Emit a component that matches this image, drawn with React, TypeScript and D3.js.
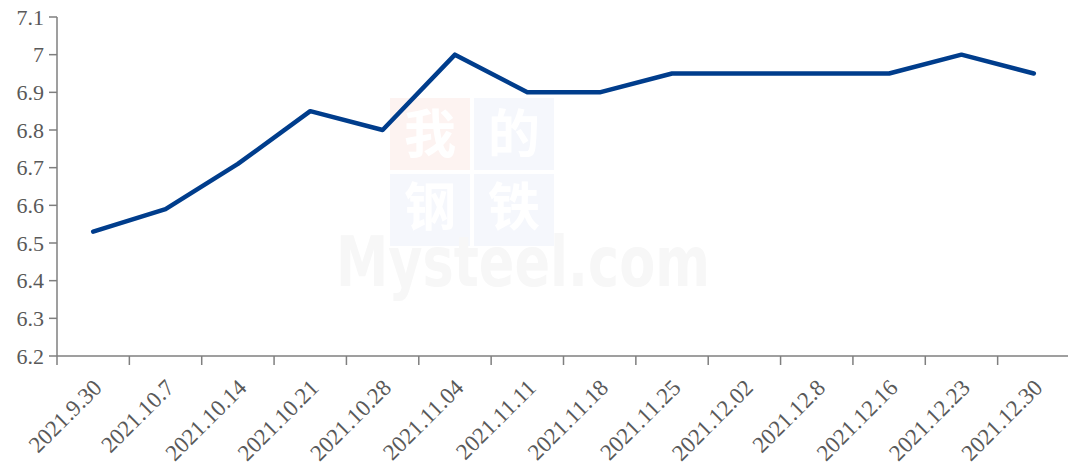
import React from "react";
import * as d3 from "d3";

const categories = ["2021.9.30","2021.10.7","2021.10.14","2021.10.21","2021.10.28","2021.11.04","2021.11.11","2021.11.18","2021.11.25","2021.12.02","2021.12.8","2021.12.16","2021.12.23","2021.12.30"];
const values = [6.53, 6.59, 6.71, 6.85, 6.80, 7.00, 6.90, 6.90, 6.95, 6.95, 6.95, 6.95, 7.00, 6.95];
const yTicks = [6.2, 6.3, 6.4, 6.5, 6.6, 6.7, 6.8, 6.9, 7.0, 7.1];

export default function App() {
  const W = 1068, H = 472;
  const left = 57, right = 1070, top = 17, bottom = 356;
  const x = d3.scaleBand<string>().domain(categories).range([left, right]).padding(0);
  const y = d3.scaleLinear().domain([6.2, 7.1]).range([bottom, top]);
  const line = d3.line<number>().x((_, i) => (x(categories[i]) as number) + x.bandwidth() / 2).y(d => y(d));
  const serif = { fontFamily: "'Liberation Serif', 'Times New Roman', Times, 'DejaVu Serif', serif" };
  const cjk = { fontFamily: "'Noto Sans CJK SC'" };
  const axisColor = "#7f7f7f";
  const textColor = "#595959";
  return (
    <svg width={W} height={H} style={{ position: "absolute", left: 0, top: 0, background: "#fff" }}>
      {/* watermark */}
      <g>
        <rect x={390} y={98} width={80} height={72} fill="#fdf3f1" />
        <rect x={474} y={98} width={80} height={72} fill="#f5f7fc" />
        <rect x={390} y={174} width={80} height={72} fill="#f5f7fc" />
        <rect x={474} y={174} width={80} height={72} fill="#f5f7fc" />
        <text x={430} y={153} textAnchor="middle" fontSize={52} fill="#ffffff" fontWeight="bold" style={cjk}>我</text>
        <text x={514} y={153} textAnchor="middle" fontSize={52} fill="#ffffff" fontWeight="bold" style={cjk}>的</text>
        <text x={430} y={226} textAnchor="middle" fontSize={52} fill="#ffffff" fontWeight="bold" style={cjk}>钢</text>
        <text x={514} y={226} textAnchor="middle" fontSize={52} fill="#ffffff" fontWeight="bold" style={cjk}>铁</text>
        <text x={336} y={286} fontSize={70} fill="#f7f7f7" fontWeight="bold" textLength={374} lengthAdjust="spacingAndGlyphs" style={{ fontFamily: "'DejaVu Sans'" }}>Mysteel.com</text>
      </g>
      {/* y axis */}
      <line x1={left} x2={left} y1={top} y2={bottom} stroke={axisColor} strokeWidth={1.5} />
      {yTicks.map(t => (
        <g key={t}>
          <line x1={left - 8} x2={left} y1={y(t)} y2={y(t)} stroke={axisColor} strokeWidth={1.5} />
          <text x={left - 13} y={y(t)} dy="0.35em" textAnchor="end" fontSize={22} fill={textColor} style={serif}>{String(+t.toFixed(1))}</text>
        </g>
      ))}
      {/* x axis */}
      <line x1={left} x2={right} y1={bottom} y2={bottom} stroke={axisColor} strokeWidth={1.5} />
      {categories.map(c => (
        <line key={"t" + c} x1={x(c) as number} x2={x(c) as number} y1={bottom} y2={bottom + 9} stroke={axisColor} strokeWidth={1.5} />
      ))}
      {categories.map(c => {
        const cx = (x(c) as number) + x.bandwidth() / 2 + 10;
        const cy = bottom + 33;
        return (
          <text key={"l" + c} x={cx} y={cy} textAnchor="end" fontSize={23} fill={textColor} style={serif} transform={`rotate(-45 ${cx} ${cy})`}>{c}</text>
        );
      })}
      <path d={line(values) as string} fill="none" stroke="#003d8c" strokeWidth={4.5} strokeLinejoin="round" strokeLinecap="round" />
    </svg>
  );
}
